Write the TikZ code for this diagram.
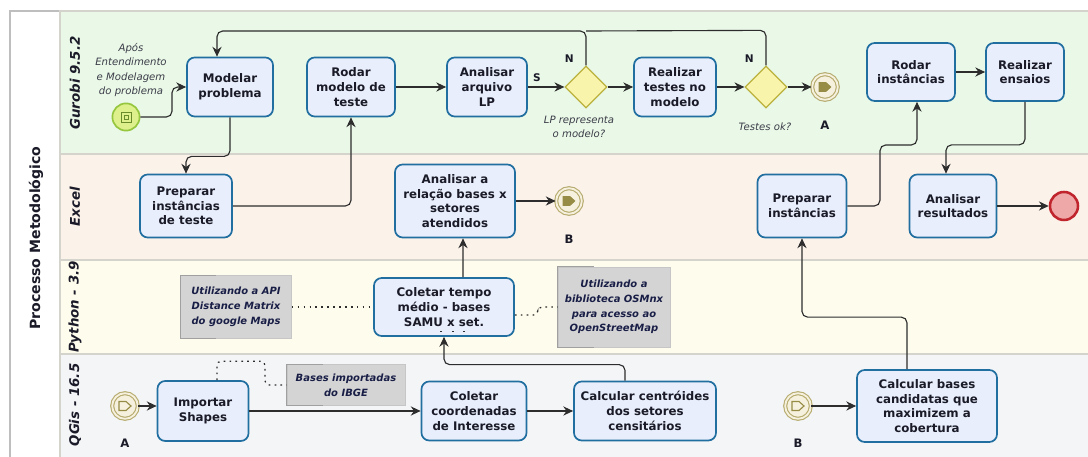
\documentclass[tikz,border=0pt]{standalone}
\usepackage{fontspec}
\setmainfont{DejaVu Sans}
\usepackage{tikz}
\usetikzlibrary{arrows.meta,shapes.geometric}
\definecolor{laneG}{RGB}{233,248,231}
\definecolor{laneE}{RGB}{251,242,234}
\definecolor{laneP}{RGB}{254,252,236}
\definecolor{laneQ}{RGB}{244,245,247}
\definecolor{lanebd}{RGB}{212,212,204}
\definecolor{poolbd}{RGB}{190,190,190}
\definecolor{taskfill}{RGB}{232,238,251}
\definecolor{taskbd}{RGB}{33,110,160}
\definecolor{txt}{RGB}{26,26,40}
\definecolor{gwfill}{RGB}{249,244,172}
\definecolor{gwbd}{RGB}{186,178,60}
\definecolor{evbd}{RGB}{183,172,112}
\definecolor{evfill}{RGB}{246,241,222}
\definecolor{evarrow}{RGB}{150,140,70}
\definecolor{stfill}{RGB}{221,240,140}
\definecolor{stbd}{RGB}{150,198,62}
\definecolor{endfill}{RGB}{239,168,168}
\definecolor{endbd}{RGB}{192,36,44}
\definecolor{annfill}{RGB}{212,212,212}
\definecolor{annbd}{RGB}{160,160,160}
\definecolor{anntxt}{RGB}{25,30,70}
\definecolor{flowc}{RGB}{45,45,45}
\tikzset{>/.tip={Stealth[length=7pt,width=6.5pt]},
  task/.style={draw=taskbd, fill=taskfill, line width=1.2pt, rounded corners=5.5pt, align=center, text=txt, inner sep=0pt, font=\fontsize{8.4}{10.5}\selectfont\bfseries},
  gateway/.style={diamond, draw=gwbd, fill=gwfill, line width=0.9pt, minimum size=1.05cm, inner sep=0pt},
  linkev/.style={circle, draw=evbd, double=evfill, double distance=1.3pt, line width=0.8pt, fill=evfill, minimum size=0.64cm, inner sep=0pt},
  startev/.style={circle, draw=stbd, fill=stfill, line width=1.2pt, minimum size=0.68cm, inner sep=0pt},
  endev/.style={circle, draw=endbd, fill=endfill, line width=1.8pt, minimum size=0.7cm, inner sep=0pt},
  ann/.style={fill=annfill, draw=annbd!60, line width=0.4pt, align=center, text=anntxt, inner sep=0pt, font=\fontsize{7.1}{10.5}\selectfont\bfseries\itshape},
  annline/.style={draw=annbd, line width=0.8pt},
  flow/.style={->, draw=flowc, line width=0.8pt, rounded corners=4pt},
  assoc/.style={draw=flowc, line width=0.9pt, dash pattern=on 1.2pt off 3pt, rounded corners=3pt},
  lbl/.style={text=txt, font=\fontsize{7.5}{9}\selectfont\bfseries},
  evlbl/.style={text=txt, font=\fontsize{8.3}{10}\selectfont\bfseries},
  note/.style={align=center, text=txt!85, font=\fontsize{7.2}{10.3}\selectfont\itshape},
  lanelbl/.style={rotate=90, text=txt, font=\fontsize{9.5}{11}\selectfont\bfseries\itshape},
}
\newcommand{\annbracket}[1]{\draw[annline] ([xshift=0.9cm]#1.north west) -- (#1.north west) -- (#1.south west) -- ([xshift=0.9cm]#1.south west);}
\newcommand{\linkarrow}[2]{\draw[#2] (#1) +(-6,-4.5) -- +(1,-4.5) -- +(6,0) -- +(1,4.5) -- +(-6,4.5) -- cycle;}

\begin{document}
\begin{tikzpicture}[x=0.025cm, y=-0.025cm]
\useasboundingbox (0,0) rectangle (1088,457);
\draw[poolbd, fill=white, line width=0.8pt] (10,11) rectangle (1100,470);
\draw[lanebd, fill=laneG, line width=0.8pt] (60,11) rectangle (1100,154);
\draw[lanebd, fill=laneE, line width=0.8pt] (60,154) rectangle (1100,260);
\draw[lanebd, fill=laneP, line width=0.8pt] (60,260) rectangle (1100,354);
\draw[lanebd, fill=laneQ, line width=0.8pt] (60,354) rectangle (1100,470);

\node[rotate=90, text=txt, font=\fontsize{10}{12}\selectfont\bfseries] (pool) at (36,238) {Processo Metodológico};
\node[lanelbl] (gurobi) at (75,83) {Gurobi 9.5.2};
\node[lanelbl] (excel) at (75,207) {Excel};
\node[lanelbl] (python) at (75,307) {Python - 3.9};
\node[lanelbl] (qgis) at (75,405) {QGis - 16.5};

\node[startev] (start) at (126,117) {};
\draw[stbd!70!black, line width=0.5pt] (start) +(-5,-5) rectangle +(5,5);
\draw[stbd!70!black, line width=0.5pt] (start) +(-2,-2) rectangle +(2,2);
\node[note] (startlbl) at (131,70) {Após\\Entendimento\\e Modelagem\\do problema};
\node[task, minimum width=2.15cm, minimum height=1.475cm] (modelar) at (230,87) {Modelar\\problema};
\node[task, minimum width=2.2cm, minimum height=1.475cm] (rodarteste) at (351,87) {Rodar\\modelo de\\teste};
\node[task, minimum width=2cm, minimum height=1.475cm] (analisarlp) at (487,87) {Analisar\\arquivo\\LP};
\node[gateway] (gw1) at (586,87) {};
\node[note] (gw1lbl) at (579,127) {LP representa\\o modelo?};
\node[task, minimum width=2.05cm, minimum height=1.475cm] (realtestes) at (675,87) {Realizar\\testes no\\modelo};
\node[gateway] (gw2) at (766,87) {};
\node[note] (gw2lbl) at (765,127) {Testes ok?};
\node[linkev] (evA1) at (825,87) {};
\linkarrow{evA1}{fill=evarrow, draw=evarrow}
\node[evlbl] (labA1) at (825,125) {A};
\node[task, minimum width=2.2cm, minimum height=1.45cm] (rodarinst) at (911,72) {Rodar\\instâncias};
\node[task, minimum width=1.95cm, minimum height=1.45cm] (realensaios) at (1025,72) {Realizar\\ensaios};

\node[task, minimum width=2.3cm, minimum height=1.575cm] (prepteste) at (186,206) {Preparar\\instâncias\\de teste};
\node[task, minimum width=3cm, minimum height=1.825cm] (relacao) at (455,201) {Analisar a\\relação bases x\\setores\\atendidos};
\node[linkev] (evB1) at (569,201) {};
\linkarrow{evB1}{fill=evarrow, draw=evarrow}
\node[evlbl] (labB1) at (569,239) {B};
\node[task, minimum width=2.225cm, minimum height=1.575cm] (prepinst) at (802,206) {Preparar\\instâncias};
\node[task, minimum width=2.175cm, minimum height=1.575cm] (analres) at (953,206) {Analisar\\resultados};
\node[endev] (fim) at (1064,206) {};

\node[task, minimum width=3.5cm, minimum height=1.45cm] (coletartempo) at (444,307) {Coletar tempo\\médio - bases\\SAMU x set.};
\foreach \dx in {-0.1,0.2,0.475} \draw[flowc, line width=0.6pt] ([xshift=\dx cm, yshift=0.125cm]coletartempo.south) -- ++(2,0);
\node[ann, minimum width=2.775cm, minimum height=1.575cm] (anngoogle) at (236,307) {Utilizando a API\\Distance Matrix\\do google Maps};
\annbracket{anngoogle}
\node[ann, minimum width=2.8cm, minimum height=2cm] (annosm) at (614,307) {Utilizando a\\biblioteca OSMnx\\para acesso ao\\OpenStreetMap};
\annbracket{annosm}

\node[linkev] (evA2) at (125,406) {};
\linkarrow{evA2}{fill=evfill, draw=evarrow, line width=0.8pt}
\node[evlbl] (labA2) at (125,443) {A};
\node[task, minimum width=2.275cm, minimum height=1.5cm] (importar) at (203,411) {Importar\\Shapes};
\node[ann, minimum width=2.95cm, minimum height=1.025cm] (annibge) at (346,385) {Bases importadas\\do IBGE};
\annbracket{annibge}
\node[task, minimum width=2.625cm, minimum height=1.475cm] (coordenadas) at (474,411) {Coletar\\coordenadas\\de Interesse};
\node[task, minimum width=3.55cm, minimum height=1.475cm] (centroides) at (645,411) {Calcular centróides\\dos setores\\censitários};
\node[linkev] (evB2) at (798,406) {};
\linkarrow{evB2}{fill=evfill, draw=evarrow, line width=0.8pt}
\node[evlbl] (labB2) at (798,443) {B};
\node[task, minimum width=3.5cm, minimum height=1.8cm] (calcbases) at (927,406) {Calcular bases\\candidatas que\\maximizem a\\cobertura};

\coordinate (loop) at (586,31);
\draw[flow] (start.east) -| (172,87) -- (modelar.west);
\draw[flow] (modelar.south) -- ++(0,39) -| (prepteste.north);
\draw[flow] (prepteste.east) -| (rodarteste.south);
\draw[flow] (rodarteste) -- (analisarlp);
\draw[flow] (analisarlp) -- node[lbl, above, pos=0.25] (labS) {S} (gw1);
\draw[flow] (gw1.north) -- node[lbl, left=5pt, pos=0.2] (labN1) {N} (loop) -| ([xshift=-0.325cm]modelar.north);
\draw[flow, -] (gw2.north) -- node[lbl, left=5pt, pos=0.2] (labN2) {N} ++(0,-35) -- (loop);
\draw[flow] (gw1) -- (realtestes);
\draw[flow] (realtestes) -- (gw2);
\draw[flow] (gw2) -- (evA1);
\draw[flow] (prepinst.east) -| (880,145) -| ([xshift=0.15cm]rodarinst.south);
\draw[flow] (rodarinst) -- (realensaios);
\draw[flow] (realensaios.south) -- ++(0,43) -| ([xshift=-0.175cm]analres.north);
\draw[flow] (analres) -- (fim);
\draw[flow] (relacao) -- (evB1);
\draw[flow] ([xshift=0.475cm]coletartempo.north) -- ([xshift=0.2cm]relacao.south);
\draw[flow] ([xshift=-0.5cm]centroides.north) -- ++(0,-16) -| (coletartempo.south);
\draw[flow] (evA2) -- (evA2 -| importar.west);
\draw[flow] (importar) -- (coordenadas);
\draw[flow] (coordenadas) -- (centroides);
\draw[flow] (evB2) -- (calcbases);
\draw[flow] ([xshift=-0.5cm]calcbases.north) -- ++(0,-52) -| (prepinst.south);
\draw[assoc] (anngoogle) -- (coletartempo);
\draw[assoc] ([yshift=-0.2cm]coletartempo.east) -- ++(23,0) |- (annosm.west);
\draw[assoc] ([xshift=0.35cm]importar.north) -- ++(0,-19) -| (265,385) -- (annibge.west);
\end{tikzpicture}
\end{document}
